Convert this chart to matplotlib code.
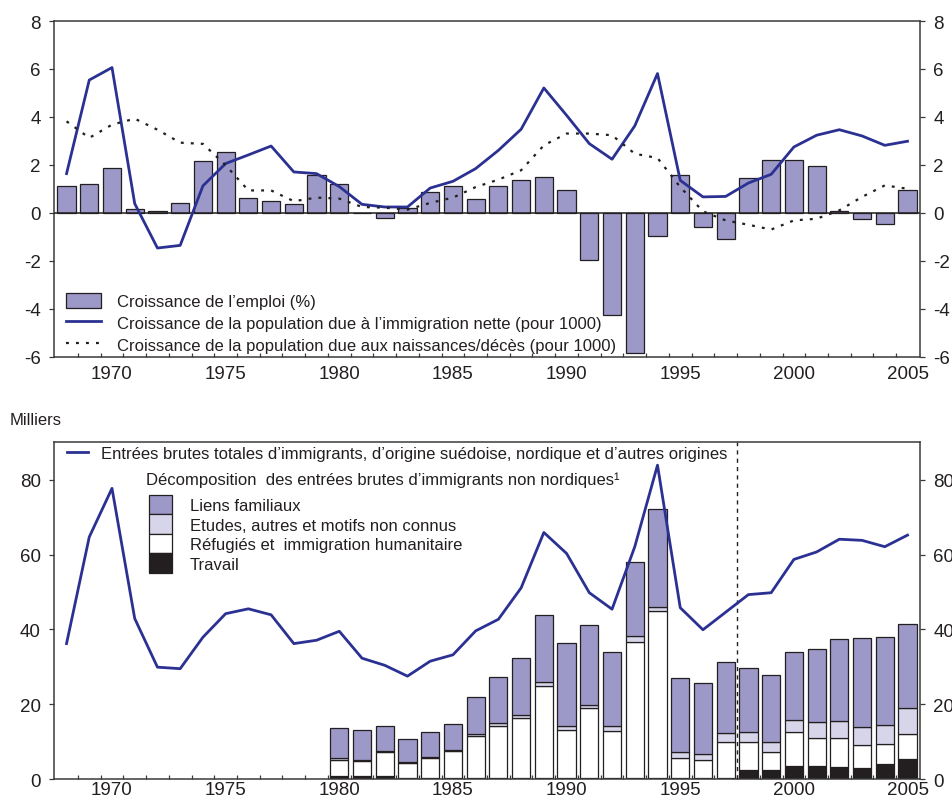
import numpy as np
import matplotlib
matplotlib.use("Agg")
import matplotlib.pyplot as plt
from matplotlib.patches import Patch
from matplotlib.lines import Line2D
from matplotlib.ticker import FixedLocator

plt.rcParams['font.family'] = ['Liberation Sans', 'DejaVu Sans']
plt.rcParams['axes.unicode_minus'] = False

# ---- Upper panel: employment and population growth ----
years = list(range(1968, 2006))
emploi = [1.12, 1.21, 1.89, 0.15, 0.08, 0.40, 2.15, 2.53, 0.63, 0.50, 0.38, 1.57, 1.21,
          -0.02, -0.19, 0.22, 0.86, 1.11, 0.60, 1.11, 1.36, 1.49, 0.94,
          -1.96, -4.24, -5.82, -0.96, 1.57, -0.60, -1.10, 1.46, 2.22, 2.19,
          1.97, 0.10, -0.26, -0.44, 0.94]
immig_nette = [1.64, 5.54, 6.06, 0.39, -1.46, -1.35, 1.13, 2.06, 2.42, 2.79, 1.71, 1.64, 1.10,
               0.36, 0.25, 0.25, 1.04, 1.32, 1.85, 2.61, 3.49, 5.21, 4.07,
               2.89, 2.24, 3.63, 5.81, 1.36, 0.67, 0.69, 1.25, 1.61, 2.75,
               3.24, 3.47, 3.21, 2.82, 2.99]
naissances = [3.82, 3.13, 3.68, 3.93, 3.47, 2.93, 2.88, 1.99, 0.94, 0.94, 0.49, 0.64, 0.60,
              0.25, 0.22, 0.14, 0.42, 0.64, 1.08, 1.39, 1.78, 2.82, 3.31,
              3.31, 3.24, 2.47, 2.29, 1.08, 0.07, -0.31, -0.49, -0.69, -0.31,
              -0.24, 0.11, 0.67, 1.15, 1.01]

# ---- Lower panel: gross immigrant inflows (thousands) ----
entrees_totales = [36.2, 64.7, 77.7, 42.9, 29.9, 29.5, 37.9, 44.2, 45.5, 43.9, 36.2, 37.1, 39.5,
                   32.3, 30.4, 27.5, 31.5, 33.2, 39.6, 42.7, 51.1, 65.9, 60.3,
                   49.8, 45.4, 62.1, 83.9, 45.8, 39.9, 44.6, 49.3, 49.8, 58.7,
                   60.7, 64.1, 63.8, 62.1, 65.2]
years_dec = list(range(1980, 2006))
travail = [0.9, 0.9, 0.9, 0.4, 0.3, 0.2, 0.2, 0.2, 0.2, 0.2,
           0.2, 0.2, 0.2, 0.2, 0.2, 0.2, 0.2, 0.4, 2.5, 2.4,
           3.5, 3.4, 3.2, 3.0, 4.0, 5.4]
refugies = [4.1, 3.9, 6.2, 3.9, 5.3, 7.2, 11.3, 14.0, 16.1, 24.8,
            13.0, 18.8, 12.6, 36.4, 44.8, 5.5, 5.0, 9.6, 7.3, 4.8,
            9.0, 7.7, 7.8, 6.1, 5.3, 6.6]
etudes = [0.7, 0.3, 0.3, 0.3, 0.4, 0.4, 0.6, 0.7, 0.9, 0.9,
          1.1, 0.9, 1.4, 1.6, 1.0, 1.5, 1.6, 2.3, 2.7, 2.6,
          3.2, 4.1, 4.6, 4.9, 5.2, 6.9]
liens = [7.9, 8.0, 6.7, 6.2, 6.6, 6.9, 9.7, 12.3, 15.1, 18.0,
         22.1, 21.2, 19.7, 19.9, 26.1, 19.7, 18.9, 19.1, 17.1, 17.9,
         18.2, 19.6, 21.7, 23.6, 23.5, 22.6]
rupture_serie = 1997.5

xticks = [1970, 1975, 1980, 1985, 1990, 1995, 2000, 2005]
top_yticks = [-6, -4, -2, 0, 2, 4, 6, 8]
bot_yticks = [0, 20, 40, 60, 80]

PURPLE = '#9c98c8'
LIGHT = '#d7d5ea'
NAVY = '#2b3192'
BLACK = '#231f20'
TEXT = '#231f20'
SPINE = '#3a3a3a'

fig = plt.figure(figsize=(9.53, 8.03), dpi=100)
ax1 = fig.add_axes([0.0567, 0.5542, 0.9087, 0.4184])
ax2 = fig.add_axes([0.0567, 0.0286, 0.9087, 0.4193])


def style_axes(ax, yticks, ylim, xpad):
    ax.set_xlim(1967.45, 2005.55)
    ax.set_ylim(*ylim)
    for s in ax.spines.values():
        s.set_color(SPINE)
        s.set_linewidth(1.1)
    ax.set_xticks(xticks)
    ax.set_xticklabels([str(x) for x in xticks])
    ax.xaxis.set_minor_locator(FixedLocator(np.arange(1968.5, 2005, 1.0)))
    ax.tick_params(axis='x', which='major', length=0, pad=xpad, labelsize=13.5, colors=TEXT)
    ax.tick_params(axis='x', which='minor', direction='in', length=3.2, width=0.9,
                   color=SPINE)
    ax.set_yticks(yticks)
    ax.tick_params(axis='y', which='major', direction='out', length=3.5, width=0.9,
                   labelsize=13.5, left=True, right=True,
                   labelleft=True, labelright=True, pad=6)
    ax.tick_params(axis='y', colors=SPINE, labelcolor=TEXT)


# Upper panel
ax1.bar(years, emploi, width=0.8, color=PURPLE, edgecolor=BLACK, linewidth=0.9, zorder=2)
ax1.axhline(0, color=BLACK, linewidth=1.1, zorder=3)
ax1.plot(years, immig_nette, color=NAVY, linewidth=2.0, zorder=4)
ax1.plot(years, naissances, color=BLACK, linewidth=1.6, dashes=(1.3, 3.2), zorder=4)
style_axes(ax1, top_yticks, (-6, 8), 5.6)

h1 = [Patch(facecolor=PURPLE, edgecolor=BLACK, linewidth=0.9),
      Line2D([], [], color=NAVY, linewidth=2.0),
      Line2D([], [], color=BLACK, linewidth=1.6, dashes=(1.3, 3.2))]
l1 = ["Croissance de l\u2019emploi (%)",
      "Croissance de la population due \u00e0 l\u2019immigration nette (pour 1000)",
      "Croissance de la population due aux naissances/d\u00e9c\u00e8s (pour 1000)"]
leg1 = ax1.legend(h1, l1, loc='lower left', bbox_to_anchor=(0.0139, 0.012),
                  frameon=False, fontsize=12, handlelength=2.1, handleheight=1.05,
                  handletextpad=0.95, labelspacing=0.32, borderpad=0, borderaxespad=0,
                  labelcolor=TEXT)

# Lower panel
xd = np.array(years_dec)
b0 = np.zeros(len(xd))
for vals, col in [(travail, BLACK), (refugies, 'white'), (etudes, LIGHT), (liens, PURPLE)]:
    ax2.bar(xd, vals, bottom=b0, width=0.8, color=col, edgecolor=BLACK,
            linewidth=0.9, zorder=2)
    b0 = b0 + np.array(vals)
ax2.plot(years, entrees_totales, color=NAVY, linewidth=2.0, zorder=4)
ax2.axvline(rupture_serie, color=BLACK, linewidth=1.0, dashes=(3, 3), zorder=3)
style_axes(ax2, bot_yticks, (0, 90), 1.2)

leg2a = ax2.legend([Line2D([], [], color=NAVY, linewidth=2.0)],
                   ["Entr\u00e9es brutes totales d\u2019immigrants, d\u2019origine su\u00e9doise, "
                    "nordique et d\u2019autres origines"],
                   loc='upper left', bbox_to_anchor=(0.0147, 0.989), frameon=False,
                   fontsize=12, handlelength=1.3, handletextpad=0.75, borderpad=0,
                   borderaxespad=0, labelcolor=TEXT)
ax2.add_artist(leg2a)

ax2.text(0.1059, 0.891,
         "D\u00e9composition  des entr\u00e9es brutes d\u2019immigrants non nordiques\u00b9",
         transform=ax2.transAxes, fontsize=12, color=TEXT, ha='left', va='center')

h2 = [Patch(facecolor=PURPLE, edgecolor=BLACK, linewidth=0.9),
      Patch(facecolor=LIGHT, edgecolor=BLACK, linewidth=0.9),
      Patch(facecolor='white', edgecolor=BLACK, linewidth=0.9),
      Patch(facecolor=BLACK, edgecolor=BLACK, linewidth=0.9)]
l2 = ["Liens familiaux", "Etudes, autres et motifs non connus",
      "R\u00e9fugi\u00e9s et  immigration humanitaire", "Travail"]
leg2b = ax2.legend(h2, l2, loc='upper left', bbox_to_anchor=(0.1097, 0.8444),
                   frameon=False, fontsize=12, handlelength=1.4, handleheight=1.43,
                   handletextpad=1.05, labelspacing=0.0, borderpad=0, borderaxespad=0,
                   labelcolor=TEXT)

fig.text(10 / 953, 1 - 421 / 803, "Milliers", fontsize=12, color=TEXT, va='center', ha='left')

fig.savefig("out.png", dpi=100)
